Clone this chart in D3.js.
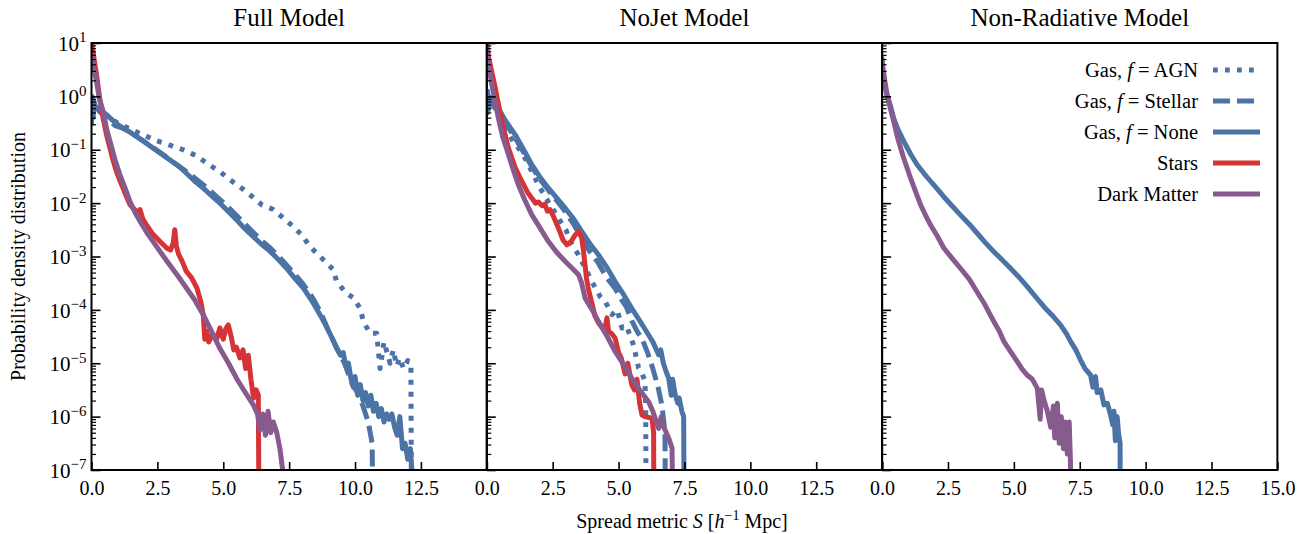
<!DOCTYPE html>
<html>
<head>
<meta charset="utf-8">
<script src="https://cdn.jsdelivr.net/npm/d3@7"></script>
<style>
  html, body { margin: 0; padding: 0; background: #fff; }
  svg { display: block; }
  text { font-family: "Liberation Serif", "Times New Roman", "DejaVu Serif", serif; fill: #000; }
</style>
</head>
<body>
<svg id="chart" width="1314" height="534"></svg>
<script>
// ---------------- DATA (S in h^-1 Mpc, value given as log10 of PDF) ----------------
const panelTitles = ["Full Model", "NoJet Model", "Non-Radiative Model"];
const xTicks = [0, 2.5, 5, 7.5, 10, 12.5, 15];
const yTickExps = [1, 0, -1, -2, -3, -4, -5, -6, -7];
const seriesNames = ["Gas, f = AGN", "Gas, f = Stellar", "Gas, f = None", "Stars", "Dark Matter"];

// Full Model
const fullAGN = [[0,-0.3],[0.03,0.0],[0.06,-0.4],[0.1,-0.2],[0.3,-0.25],[0.6,-0.38],[1.0,-0.5],[1.5,-0.62],[2.0,-0.73],[2.47,-0.83],[3.0,-0.92],[3.48,-1.0],[4.0,-1.12],[4.37,-1.25],[4.87,-1.41],[5.25,-1.56],[5.7,-1.72],[6.08,-1.87],[6.46,-2.03],[6.9,-2.12],[7.28,-2.28],[7.66,-2.44],[8.04,-2.63],[8.23,-2.78],[8.54,-2.94],[8.86,-3.09],[9.18,-3.25],[9.3,-3.47],[9.62,-3.66],[9.94,-3.78],[10.19,-3.97],[10.32,-4.22],[10.57,-4.44],[10.82,-4.44],[10.95,-5.1],[11.1,-4.6],[11.33,-5.0],[11.45,-4.75],[11.58,-5.05],[11.7,-4.9],[11.84,-5.1],[12.0,-4.95],[12.12,-5.0],[12.15,-9]];
const fullStellar = [[0,-0.4],[0.03,0.0],[0.06,-0.3],[0.1,-0.15],[0.3,-0.28],[0.6,-0.42],[0.9,-0.55],[1.2,-0.6],[1.5,-0.68],[1.8,-0.78],[2.1,-0.88],[2.4,-0.98],[2.8,-1.12],[3.2,-1.27],[3.6,-1.41],[4.0,-1.56],[4.4,-1.72],[4.8,-1.9],[5.2,-2.08],[5.6,-2.28],[6.0,-2.48],[6.4,-2.68],[6.8,-2.85],[7.2,-3.05],[7.6,-3.27],[8.0,-3.5],[8.4,-3.78],[8.7,-4.05],[9.0,-4.4],[9.3,-4.7],[9.6,-5.0],[9.9,-5.4],[10.1,-5.55],[10.3,-5.8],[10.5,-6.1],[10.65,-6.5],[10.7,-9]];
const fullNone = [[0,-0.5],[0.03,-0.05],[0.06,-0.35],[0.1,-0.1],[0.15,-0.2],[0.3,-0.25],[0.57,-0.34],[0.8,-0.45],[1.08,-0.56],[1.4,-0.65],[1.7,-0.75],[2.0,-0.85],[2.34,-0.97],[2.65,-1.08],[2.97,-1.19],[3.3,-1.3],[3.6,-1.44],[3.9,-1.58],[4.24,-1.72],[4.55,-1.86],[4.87,-2.0],[5.2,-2.16],[5.5,-2.31],[5.8,-2.47],[6.14,-2.63],[6.45,-2.77],[6.77,-2.9],[7.1,-3.06],[7.4,-3.22],[7.7,-3.4],[8.04,-3.59],[8.35,-3.82],[8.67,-4.09],[8.9,-4.3],[9.1,-4.5],[9.3,-4.72],[9.45,-4.85],[9.55,-4.8],[9.65,-5.05],[9.75,-5.0],[9.85,-5.3],[9.94,-5.45],[10.0,-5.25],[10.1,-5.6],[10.2,-5.4],[10.3,-5.7],[10.4,-5.55],[10.5,-5.8],[10.6,-5.6],[10.7,-5.9],[10.8,-5.75],[10.9,-6.0],[11.0,-5.85],[11.1,-6.1],[11.2,-5.95],[11.3,-6.05],[11.4,-5.95],[11.5,-6.2],[11.6,-6.35],[11.7,-6.0],[11.8,-6.6],[11.9,-6.5],[12.0,-6.8],[12.1,-6.6],[12.15,-6.95],[12.2,-9]];
const fullStars = [[0,1.0],[0.05,0.85],[0.19,0.41],[0.3,0.0],[0.44,-0.41],[0.57,-0.72],[0.7,-0.97],[0.82,-1.2],[0.95,-1.41],[1.08,-1.58],[1.2,-1.72],[1.33,-1.88],[1.46,-2.03],[1.6,-2.1],[1.75,-2.18],[1.84,-2.12],[1.95,-2.3],[2.1,-2.42],[2.34,-2.59],[2.6,-2.72],[2.85,-2.84],[3.0,-2.88],[3.1,-2.75],[3.16,-2.5],[3.22,-2.8],[3.3,-2.95],[3.45,-3.1],[3.6,-3.28],[3.8,-3.4],[4.0,-3.59],[4.15,-3.85],[4.24,-4.09],[4.3,-4.55],[4.37,-4.4],[4.45,-4.6],[4.6,-4.45],[4.75,-4.55],[4.87,-4.34],[5.0,-4.55],[5.1,-4.35],[5.19,-4.28],[5.3,-4.5],[5.4,-4.75],[5.5,-4.7],[5.63,-4.9],[5.75,-4.75],[5.85,-5.1],[5.95,-4.85],[6.05,-5.3],[6.15,-5.65],[6.25,-5.5],[6.33,-5.6],[6.37,-9]];
const fullDM = [[0,0.8],[0.06,0.6],[0.19,0.28],[0.3,-0.05],[0.44,-0.28],[0.57,-0.6],[0.7,-0.84],[0.9,-1.2],[1.08,-1.47],[1.3,-1.75],[1.46,-1.97],[1.65,-2.17],[1.84,-2.34],[2.1,-2.55],[2.34,-2.72],[2.65,-2.94],[2.97,-3.16],[3.3,-3.38],[3.6,-3.59],[3.9,-3.8],[4.24,-4.09],[4.55,-4.4],[4.87,-4.72],[5.2,-5.0],[5.5,-5.28],[5.8,-5.52],[6.14,-5.78],[6.3,-5.95],[6.39,-6.25],[6.5,-5.95],[6.6,-6.35],[6.7,-5.9],[6.8,-6.3],[6.9,-6.1],[7.03,-6.3],[7.15,-6.6],[7.28,-7.1],[7.35,-9]];

// NoJet Model
const nojetAGN = [[0,-0.3],[0.03,0.0],[0.06,-0.3],[0.1,-0.1],[0.2,-0.15],[0.44,-0.3],[0.7,-0.55],[1.0,-0.85],[1.25,-1.0],[1.5,-1.2],[1.7,-1.4],[2.0,-1.7],[2.4,-2.03],[2.72,-2.28],[3.0,-2.5],[3.23,-2.78],[3.48,-2.97],[3.99,-3.47],[4.3,-3.75],[4.5,-3.85],[4.75,-4.09],[4.95,-4.0],[5.13,-4.34],[5.3,-4.3],[5.57,-4.66],[5.76,-5.09],[5.9,-5.2],[6.0,-5.34],[6.03,-5.8],[6.05,-9]];
const nojetStellar = [[0,-0.35],[0.03,0.05],[0.06,-0.25],[0.1,-0.05],[0.2,-0.12],[0.44,-0.25],[0.7,-0.5],[1.08,-0.78],[1.4,-1.05],[1.71,-1.32],[2.0,-1.54],[2.34,-1.76],[2.65,-1.95],[2.97,-2.15],[3.3,-2.4],[3.6,-2.65],[3.9,-2.9],[4.2,-3.1],[4.55,-3.4],[4.87,-3.6],[5.1,-3.8],[5.3,-3.95],[5.5,-4.2],[5.7,-4.4],[5.9,-4.55],[6.1,-4.8],[6.3,-5.1],[6.5,-5.45],[6.65,-5.8],[6.76,-6.3],[6.8,-9]];
const nojetNone = [[0,-0.3],[0.03,0.1],[0.06,-0.2],[0.1,0.0],[0.2,-0.1],[0.44,-0.22],[0.7,-0.45],[1.08,-0.72],[1.4,-1.0],[1.71,-1.28],[2.0,-1.5],[2.34,-1.72],[2.65,-1.9],[2.97,-2.09],[3.3,-2.3],[3.6,-2.53],[3.9,-2.75],[4.24,-2.97],[4.55,-3.2],[4.87,-3.47],[5.2,-3.72],[5.5,-3.97],[5.8,-4.2],[6.14,-4.47],[6.3,-4.6],[6.52,-4.84],[6.6,-4.75],[6.7,-5.0],[6.8,-5.15],[6.9,-5.28],[7.0,-5.6],[7.05,-5.3],[7.15,-5.59],[7.25,-5.75],[7.3,-5.65],[7.4,-5.9],[7.47,-6.0],[7.5,-9]];
const nojetStars = [[0,1.0],[0.06,0.75],[0.32,0.16],[0.57,-0.47],[0.82,-0.97],[1.08,-1.34],[1.33,-1.59],[1.55,-1.8],[1.71,-1.91],[1.85,-2.0],[1.96,-1.98],[2.1,-2.05],[2.2,-2.02],[2.3,-2.15],[2.4,-2.12],[2.53,-2.25],[2.72,-2.47],[2.9,-2.7],[3.04,-2.78],[3.2,-2.72],[3.35,-2.6],[3.48,-2.53],[3.6,-2.65],[3.67,-2.9],[3.78,-3.4],[3.86,-3.62],[4.0,-3.9],[4.11,-4.12],[4.25,-4.25],[4.4,-4.35],[4.5,-4.3],[4.56,-4.15],[4.62,-4.4],[4.75,-4.45],[4.87,-4.53],[5.0,-4.8],[5.1,-4.9],[5.25,-5.2],[5.35,-5.0],[5.5,-5.4],[5.6,-5.5],[5.7,-5.3],[5.8,-5.75],[5.89,-5.97],[6.0,-6.0],[6.27,-6.03],[6.33,-6.3],[6.35,-9]];
const nojetDM = [[0,0.9],[0.06,0.65],[0.19,0.22],[0.44,-0.41],[0.6,-0.75],[0.82,-1.09],[1.0,-1.37],[1.2,-1.66],[1.45,-1.95],[1.71,-2.22],[2.0,-2.45],[2.34,-2.72],[2.65,-2.92],[2.97,-3.09],[3.2,-3.2],[3.48,-3.34],[3.6,-3.5],[3.73,-3.78],[4.0,-4.0],[4.24,-4.22],[4.55,-4.48],[4.87,-4.78],[5.2,-5.03],[5.5,-5.28],[5.8,-5.5],[6.14,-5.72],[6.3,-5.9],[6.52,-6.22],[6.62,-6.0],[6.72,-6.2],[6.9,-6.4],[7.03,-6.59],[7.08,-9]];

// Non-Radiative Model
const nonradNone = [[0,0.45],[0.03,0.4],[0.1,0.2],[0.2,0.0],[0.3,-0.15],[0.44,-0.41],[0.6,-0.62],[0.82,-0.84],[1.08,-1.08],[1.33,-1.28],[1.6,-1.45],[1.84,-1.59],[2.1,-1.74],[2.34,-1.88],[2.65,-2.05],[2.97,-2.22],[3.3,-2.39],[3.6,-2.56],[3.9,-2.73],[4.24,-2.91],[4.55,-3.06],[4.87,-3.22],[5.2,-3.39],[5.5,-3.56],[5.8,-3.74],[6.14,-3.94],[6.45,-4.1],[6.77,-4.28],[7.0,-4.45],[7.15,-4.59],[7.35,-4.75],[7.53,-4.94],[7.7,-5.1],[7.91,-5.22],[8.0,-5.45],[8.1,-5.25],[8.16,-5.55],[8.3,-5.5],[8.42,-5.78],[8.55,-5.75],[8.67,-5.97],[8.75,-6.15],[8.8,-5.9],[8.85,-6.45],[8.92,-6.0],[8.97,-6.3],[9.03,-6.5],[9.05,-9]];
const nonradDM = [[0,0.7],[0.03,0.55],[0.1,0.3],[0.19,0.03],[0.3,-0.2],[0.44,-0.47],[0.6,-0.8],[0.82,-1.16],[1.08,-1.53],[1.3,-1.82],[1.46,-2.03],[1.65,-2.23],[1.84,-2.41],[2.1,-2.62],[2.34,-2.84],[2.65,-3.03],[2.97,-3.22],[3.3,-3.42],[3.6,-3.66],[3.9,-3.9],[4.24,-4.22],[4.45,-4.4],[4.62,-4.59],[4.9,-4.8],[5.13,-4.97],[5.3,-5.1],[5.5,-5.22],[5.7,-5.3],[5.89,-5.47],[6.0,-6.05],[6.05,-5.5],[6.15,-5.7],[6.27,-5.9],[6.4,-6.2],[6.5,-5.8],[6.55,-6.4],[6.65,-5.75],[6.72,-6.5],[6.8,-6.0],[6.88,-6.6],[6.95,-6.1],[7.03,-6.7],[7.1,-6.1],[7.15,-6.9],[7.17,-9]];

// ---------------- STYLES ----------------
const BLUE = "#4b73a6", RED = "#d63336", PURPLE = "#885b8f";
const styles = {
  agn:     { color: BLUE,   dash: "4.8,7.2" },
  stellar: { color: BLUE,   dash: "17,7" },
  none:    { color: BLUE,   dash: null },
  stars:   { color: RED,    dash: null },
  dm:      { color: PURPLE, dash: null }
};
const panelSeries = [
  [["agn", fullAGN], ["stellar", fullStellar], ["none", fullNone], ["stars", fullStars], ["dm", fullDM]],
  [["agn", nojetAGN], ["stellar", nojetStellar], ["none", nojetNone], ["stars", nojetStars], ["dm", nojetDM]],
  [["none", nonradNone], ["dm", nonradDM]]
];
const legendKeys = ["agn", "stellar", "none", "stars", "dm"];

// ---------------- LAYOUT ----------------
const svg = d3.select("#chart");
const plotLeft = 91.5, panelW = 395.3, plotTop = 43, plotBottom = 470;
const LW = 5;
const FONT = "Liberation Serif, Times New Roman, DejaVu Serif, serif";

const y = d3.scaleLog().domain([1e-7, 10]).range([plotBottom, plotTop]);
const majorY = yTickExps.map(e => Math.pow(10, e));
const minorY = [];
for (let e = -7; e < 1; e++) for (let m = 2; m <= 9; m++) minorY.push(m * Math.pow(10, e));

panelTitles.forEach((title, i) => {
  const left = plotLeft + i * panelW;
  const x = d3.scaleLinear().domain([0, 15]).range([left, left + panelW]);
  const g = svg.append("g");

  const clipId = "clip" + i;
  svg.append("clipPath").attr("id", clipId).append("rect")
    .attr("x", left).attr("y", plotTop).attr("width", panelW).attr("height", plotBottom - plotTop);

  const line = d3.line()
    .x(d => x(d[0]))
    .y(d => y(Math.pow(10, d[1])));

  const lg = g.append("g").attr("clip-path", `url(#${clipId})`);
  panelSeries[i].forEach(([key, data]) => {
    const st = styles[key];
    lg.append("path")
      .attr("d", line(data))
      .attr("fill", "none")
      .attr("stroke", st.color)
      .attr("stroke-width", LW)
      .attr("stroke-linejoin", "round")
      .attr("stroke-linecap", st.dash ? "butt" : "square")
      .attr("stroke-dasharray", st.dash);
  });

  // x axis (inward ticks)
  const xAxis = d3.axisBottom(x).tickValues(xTicks)
    .tickSizeInner(-8).tickSizeOuter(0).tickPadding(11)
    .tickFormat(v => (i < 2 && v === 15) ? "" : d3.format(".1f")(v));
  const gx = g.append("g").attr("transform", `translate(0,${plotBottom})`).call(xAxis);
  gx.select(".domain").remove();
  gx.selectAll("line").attr("stroke", "#000").attr("stroke-width", 1.6);
  gx.selectAll("text").attr("font-size", 20).attr("font-family", FONT).attr("fill", "#000");

  // y axis major
  const yAxis = d3.axisLeft(y).tickValues(majorY).tickSizeInner(-9).tickSizeOuter(0).tickPadding(6)
    .tickFormat(() => "");
  const gy = g.append("g").attr("transform", `translate(${left},0)`).call(yAxis);
  gy.select(".domain").remove();
  gy.selectAll("line").attr("stroke", "#000").attr("stroke-width", 1.6);
  if (i === 0) {
    gy.selectAll(".tick text").each(function(d) {
      const t = d3.select(this);
      const e = Math.round(Math.log10(d));
      t.text(null).attr("font-size", 21).attr("font-family", FONT)
        .attr("fill", "#000").attr("x", -5).attr("dy", "0.34em").attr("text-anchor", "end");
      t.append("tspan").text("10");
      t.append("tspan").attr("font-size", 15).attr("dy", "-0.55em")
        .text(e < 0 ? "\u2212" + Math.abs(e) : String(e));
    });
  }
  // y axis minor
  const yMinor = d3.axisLeft(y).tickValues(minorY).tickSizeInner(-4.5).tickSizeOuter(0).tickFormat(() => "");
  const gym = g.append("g").attr("transform", `translate(${left},0)`).call(yMinor);
  gym.select(".domain").remove();
  gym.selectAll("line").attr("stroke", "#000").attr("stroke-width", 1.2);

  // spines
  g.append("rect").attr("x", left).attr("y", plotTop).attr("width", panelW).attr("height", plotBottom - plotTop)
    .attr("fill", "none").attr("stroke", "#000").attr("stroke-width", 2);

  // title
  g.append("text").attr("x", left + panelW / 2).attr("y", 26).attr("text-anchor", "middle")
    .attr("font-size", 25).text(title);

  // legend in last panel
  if (i === 2) {
    const lgd = g.append("g");
    legendKeys.forEach((key, k) => {
      const yy = 70 + k * 31;
      const st = styles[key];
      lgd.append("line").attr("x1", 1213).attr("x2", 1260).attr("y1", yy).attr("y2", yy)
        .attr("stroke", st.color).attr("stroke-width", LW)
        .attr("stroke-dasharray", st.dash).attr("stroke-linecap", "butt");
      const name = seriesNames[k];
      const t = lgd.append("text").attr("x", 1198).attr("y", yy + 7).attr("text-anchor", "end").attr("font-size", 20.5);
      if (name.startsWith("Gas, f = ")) {
        t.append("tspan").text("Gas, ");
        t.append("tspan").attr("font-style", "italic").text("f");
        t.append("tspan").text(" = " + name.slice(9));
      } else {
        t.text(name);
      }
    });
  }
});

// axis labels
svg.append("text").attr("transform", `translate(25,${(plotTop + plotBottom) / 2}) rotate(-90)`)
  .attr("text-anchor", "middle").attr("font-size", 20).text("Probability density distribution");

const xl = svg.append("text").attr("x", 682).attr("y", 528).attr("text-anchor", "middle").attr("font-size", 20);
xl.append("tspan").text("Spread metric ");
xl.append("tspan").attr("font-style", "italic").text("S");
xl.append("tspan").text(" [");
xl.append("tspan").attr("font-style", "italic").text("h");
xl.append("tspan").attr("font-size", 14).attr("dy", "-0.6em").text("\u22121");
xl.append("tspan").attr("dy", "0.42em").text(" Mpc]");
</script>
</body>
</html>
